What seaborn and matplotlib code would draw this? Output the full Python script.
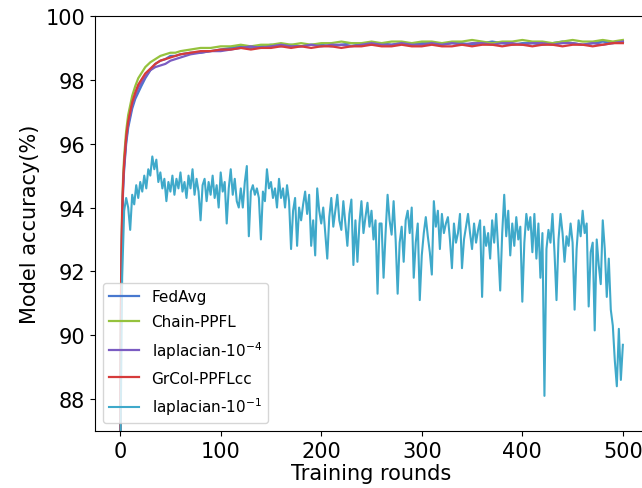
import numpy as np
import pandas as pd
import seaborn as sns
from matplotlib import pyplot as plt

# rounds shared by the four converging curves
top_rounds = [0, 1, 2, 3, 4, 5, 6, 8, 10, 12, 15, 18, 21, 25, 30, 35, 40, 45, 50, 55, 60,
              70, 80, 90, 100] + list(range(110, 501, 10))

fedavg = [85.8, 91.5, 93.5, 94.6, 95.2, 95.6, 96.0, 96.5, 96.8, 97.1, 97.4, 97.6, 97.8,
          98.05, 98.3, 98.5, 98.6, 98.65, 98.75, 98.75, 98.8, 98.85, 98.85, 98.9, 98.95,
          99.0, 99.05, 99.0, 99.05, 99.1, 99.05, 99.1, 99.05, 99.1, 99.1,
          99.05, 99.1, 99.15, 99.1, 99.1, 99.15, 99.1, 99.15, 99.1, 99.15,
          99.15, 99.1, 99.15, 99.15, 99.1, 99.15, 99.2, 99.15, 99.1, 99.15,
          99.15, 99.1, 99.15, 99.2, 99.15, 99.1, 99.15, 99.2, 99.15, 99.2]

chain_ppfl = [86.2, 92.0, 94.0, 95.0, 95.6, 96.0, 96.4, 96.9, 97.2, 97.5, 97.8, 98.05, 98.2,
              98.4, 98.55, 98.65, 98.75, 98.8, 98.85, 98.85, 98.9, 98.95, 99.0, 99.0, 99.05,
              99.05, 99.1, 99.05, 99.1, 99.1, 99.15, 99.1, 99.15, 99.1, 99.15,
              99.15, 99.2, 99.15, 99.15, 99.2, 99.15, 99.2, 99.2, 99.15, 99.2,
              99.2, 99.15, 99.2, 99.2, 99.25, 99.2, 99.15, 99.2, 99.2, 99.25,
              99.2, 99.2, 99.15, 99.2, 99.25, 99.2, 99.2, 99.25, 99.2, 99.25]

lap_1e4 = [85.9, 91.6, 93.7, 94.7, 95.3, 95.7, 96.1, 96.6, 96.9, 97.2, 97.5, 97.75, 97.9,
           98.1, 98.3, 98.4, 98.45, 98.5, 98.6, 98.65, 98.7, 98.8, 98.85, 98.9, 98.9,
           98.95, 99.0, 99.05, 99.0, 99.05, 99.1, 99.05, 99.05, 99.1, 99.05,
           99.1, 99.1, 99.05, 99.1, 99.15, 99.1, 99.1, 99.15, 99.1, 99.1,
           99.15, 99.1, 99.15, 99.1, 99.15, 99.15, 99.1, 99.15, 99.15, 99.1,
           99.15, 99.15, 99.1, 99.15, 99.15, 99.1, 99.15, 99.1, 99.15, 99.2]

grcol = [86.0, 91.8, 93.8, 94.8, 95.4, 95.8, 96.2, 96.7, 97.0, 97.3, 97.6, 97.85, 98.0,
         98.2, 98.35, 98.5, 98.6, 98.65, 98.7, 98.75, 98.8, 98.85, 98.9, 98.9, 98.95,
         98.95, 99.0, 98.95, 99.0, 99.0, 99.05, 99.0, 99.05, 99.0, 99.05,
         99.05, 99.0, 99.05, 99.05, 99.1, 99.05, 99.05, 99.1, 99.05, 99.05,
         99.1, 99.05, 99.05, 99.1, 99.05, 99.1, 99.1, 99.05, 99.1, 99.1,
         99.05, 99.1, 99.1, 99.05, 99.1, 99.1, 99.05, 99.1, 99.15, 99.15]

# noisy curve, every 2 rounds
lap_rounds = list(range(0, 501, 2))
lap_1e1 = [85.5, 91.8, 93.9, 94.3, 94.0,
           93.3, 94.4, 94.1, 94.7, 94.3,
           94.8, 94.5, 95.0, 94.6, 95.2,
           95.0, 95.6, 95.2, 95.5, 94.8,
           95.1, 94.6, 94.9, 94.2, 94.8,
           94.5, 95.0, 94.4, 94.9, 94.6,
           95.1, 94.5, 94.8, 94.3, 95.0,
           94.6, 95.2, 94.4, 94.9, 94.5,
           93.6, 94.7, 94.9, 94.2, 94.8,
           94.4, 95.0, 94.3, 94.7, 94.0,
           95.1, 94.5, 94.8, 93.5, 94.6,
           95.2, 94.4, 94.9, 94.2, 94.0,
           94.6, 94.0, 94.8, 95.3, 93.1,
           94.5, 94.7, 94.4, 94.6, 94.3,
           93.0, 94.5, 94.2, 95.2, 94.6,
           94.8, 94.3, 94.6, 94.0, 94.9,
           94.3, 94.6, 94.0, 94.7, 94.2,
           92.7, 93.9, 94.3, 92.8, 94.0,
           93.6, 94.1, 94.5, 93.8, 94.4,
           92.8, 93.6, 92.5, 94.6, 93.9,
           93.5, 94.0, 93.2, 92.4, 93.7,
           94.3, 93.4, 93.9, 94.4, 93.6,
           93.3, 94.2, 93.5, 92.8, 93.8,
           94.25, 92.2, 93.6, 92.3, 93.5,
           94.2, 93.2, 93.7, 94.15, 93.4,
           93.9, 93.0, 93.6, 91.3, 93.5,
           93.5, 91.8, 93.2, 94.4, 93.6,
           93.15, 94.2, 93.0, 91.3, 92.9,
           93.4, 92.3, 93.6, 93.9, 93.2,
           94.0, 91.8, 92.9, 93.5, 91.1,
           92.5, 93.2, 93.7, 93.1, 92.6,
           91.9, 94.2, 93.4, 93.9, 92.7,
           93.8, 93.2, 93.5, 93.7, 93.0,
           92.1, 93.5, 92.9, 93.2, 93.8,
           92.1, 93.0, 93.4, 93.8, 93.2,
           92.7, 93.5, 92.9, 93.3, 93.6,
           91.2, 93.4, 92.8, 93.2, 92.4,
           93.6, 92.9, 93.8, 92.7, 91.4,
           93.2, 94.4, 93.1, 93.9, 92.5,
           93.5, 92.8, 93.7, 93.0, 93.4,
           91.05, 92.9, 93.8, 93.3, 93.7,
           92.6, 93.8, 92.4, 93.5, 91.8,
           93.2, 88.1, 92.7, 93.3, 92.9,
           93.8, 92.6, 91.1, 93.0, 93.8,
           93.2, 92.3, 93.1, 92.8, 93.5,
           92.9, 90.8, 92.7, 93.6, 93.1,
           93.9, 93.2, 93.5, 90.9, 92.6,
           92.9, 90.15, 93.0, 92.2, 91.6,
           93.6, 92.7, 91.2, 92.4, 90.8,
           90.3, 89.2, 88.4, 90.2, 88.6,
           89.7]

labels = ['FedAvg', 'Chain-PPFL', 'laplacian-$10^{-4}$', 'GrCol-PPFLcc', 'laplacian-$10^{-1}$']
colors = ['#4878cf', '#95c23d', '#7b5cc2', '#d63b3b', '#3fa9ca']

fig = plt.figure(figsize=(6.42, 4.89), dpi=100)
ax = fig.add_axes([95 / 642, 0.1166, 553 / 642, 0.8486])

top_series = [fedavg, chain_ppfl, lap_1e4, grcol]
for vals, lab, col in zip(top_series, labels[:4], colors[:4]):
    sns.lineplot(x=top_rounds, y=vals, color=col, label=lab, linewidth=1.6, ax=ax)
sns.lineplot(x=lap_rounds, y=lap_1e1, color=colors[4], label=labels[4], linewidth=1.5, ax=ax)

ax.set_ylim(87, 100)
ax.set_yticks([88, 90, 92, 94, 96, 98, 100])
ax.set_xticks([0, 100, 200, 300, 400, 500])
ax.tick_params(labelsize=15)
ax.set_xlabel('Training rounds', fontsize=15, labelpad=2)
ax.set_ylabel('Model accuracy(%)', fontsize=15)
ax.legend(loc='lower left', fontsize=11, labelspacing=0.65)

plt.savefig('out.png', dpi=100)
